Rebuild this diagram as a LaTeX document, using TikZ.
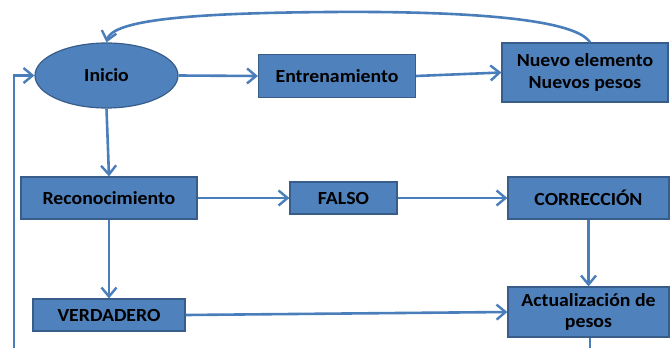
\documentclass[tikz,border=0pt]{standalone}
\usepackage{fontspec}
\setmainfont{Carlito}
\newfontfamily\blkfont[FakeStretch=1.07]{Carlito}
\usetikzlibrary{shapes.geometric,arrows.meta}
\definecolor{boxfill}{HTML}{4F81BD}
\definecolor{boxline}{HTML}{385D8A}
\definecolor{flow}{HTML}{4A7EBB}
\tikzset{
  blk/.style={draw=boxline, line width=1.2pt, fill=boxfill, rectangle, inner sep=0pt,
    align=center, font=\blkfont\fontsize{18.5}{21.5}\selectfont\bfseries, text=black},
  oval/.style={blk, ellipse},
  arr/.style={draw=flow, line width=2.6pt, -{Straight Barb[length=9pt,width=15pt,line width=2.4pt]}},
  plain/.style={draw=flow, line width=2.6pt}
}
\begin{document}
\begin{tikzpicture}[x=1pt,y=-1pt]
\useasboundingbox (0,0) rectangle (670,348);
\clip (0,0) rectangle (670,348);

% flow-chart blocks
\node[oval, minimum width=143pt, minimum height=65pt] (inicio) at (106.5,75.5) {Inicio};
\node[blk, minimum width=157pt, minimum height=43pt] (entren) at (337,76) {Entrenamiento};
\node[blk, minimum width=166pt, minimum height=59pt] (nuevo) at (585,72.5) {Nuevo elemento\\Nuevos pesos};
\node[blk, minimum width=176pt, minimum height=42pt] (recon) at (109,198) {Reconocimiento};
\node[blk, minimum width=107pt, minimum height=32pt] (falso) at (343.5,198) {FALSO};
\node[blk, minimum width=161pt, minimum height=42pt] (correc) at (588.5,198) {CORRECCIÓN};
\node[blk, minimum width=152pt, minimum height=32pt] (verd) at (109,315) {VERDADERO};
\node[blk, minimum width=161pt, minimum height=50pt] (actual) at (588.5,312) {Actualización de\\pesos};

% loose ends of the feedback lines
\coordinate (fbin) at (14,360);
\coordinate (out) at (590,370);

% connectors
\draw[arr] (inicio.east) -- (entren.west);
\draw[arr] (entren.east) -- (nuevo.west);
\draw[arr] ([xshift=5pt]nuevo.north) .. controls (575,18) and (460,11) .. (330,12)
           .. controls (190,13) and (112,20) .. (inicio.north);
\draw[arr] (inicio.south) -- (recon.north);
\draw[arr] (recon.east) -- (falso.west);
\draw[arr] (falso.east) -- (correc.west);
\draw[arr] (recon.south) -- (verd.north);
\draw[arr] (correc.south) -- (actual.north);
\draw[arr] (verd.east) -- (actual.west);
\draw[plain] ([xshift=1.5pt]actual.south) -- (out);
\draw[arr] (fbin) |- (inicio.west);
\end{tikzpicture}
\end{document}
